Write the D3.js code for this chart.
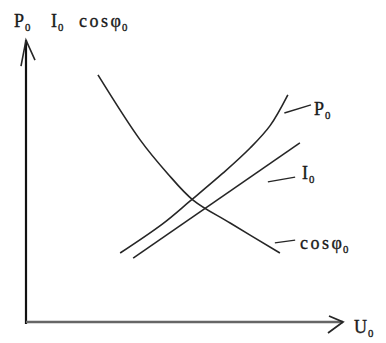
<!DOCTYPE html>
<html>
<head>
<meta charset="utf-8">
<script src="https://cdn.jsdelivr.net/npm/d3@7"></script>
<style>
  html, body { margin: 0; padding: 0; background: #fff; }
  svg { display: block; }
  text { font-family: "Liberation Serif", "DejaVu Serif", serif; fill: #1a1a1a; stroke: #1a1a1a; stroke-width: 0.35; }
</style>
</head>
<body>
<svg id="chart" width="386" height="343"></svg>
<script>
// No-load characteristic curves plotted against the applied voltage U0
// (relative units, 0..100 on both axes).
const powerU   = [29.7, 43.2, 51.7, 62.1, 70.7, 77.0, 82.6];
const powerP   = [25.0, 35.5, 43.5, 53.5, 62.5, 70.5, 81.5];
const currentU = [33.8, 86.4];
const currentI = [23.2, 64.3];
const cosU     = [22.7, 36.0, 44.5, 52.7, 64.4, 80.1];
const cosPhi   = [88.6, 65.4, 53.6, 43.9, 35.7, 25.0];

const svg = d3.select("#chart");
const x = d3.scaleLinear().domain([0, 100]).range([26, 343]);
const y = d3.scaleLinear().domain([0, 100]).range([323, 43]);

const ink = "#262626";

// axes with open arrowheads
svg.append("line").attr("x1", x(0)).attr("y1", y(0) + 1).attr("x2", x(0)).attr("y2", y(101))
  .attr("stroke", "#111").attr("stroke-width", 2.2);
svg.append("line").attr("x1", x(0)).attr("y1", y(0) - 1).attr("x2", x(100)).attr("y2", y(0) - 1)
  .attr("stroke", "#666").attr("stroke-width", 2.6);
svg.append("path")
  .attr("d", `M${x(0) - 5},${y(101) + 26} L${x(0)},${y(101)} L${x(0) + 9},${y(101) + 20}`)
  .attr("fill", "none").attr("stroke", ink).attr("stroke-width", 1.6);
svg.append("path")
  .attr("d", `M${x(100) - 14},${y(0) - 7} L${x(100)},${y(0) - 1} L${x(100) - 15},${y(0) + 10}`)
  .attr("fill", "none").attr("stroke", ink).attr("stroke-width", 1.8);

const line = d3.line().x(d => x(d[0])).y(d => y(d[1])).curve(d3.curveCatmullRom);
const series = [
  d3.zip(powerU, powerP),
  d3.zip(currentU, currentI),
  d3.zip(cosU, cosPhi)
];
svg.selectAll("path.curve").data(series).join("path")
  .attr("class", "curve")
  .attr("d", line)
  .attr("fill", "none")
  .attr("stroke", ink)
  .attr("stroke-width", 1.6);

// leader lines from curves to their labels
const leaders = [
  [[81.5, 75.0], [89.9, 77.9]],
  [[76.3, 50.4], [84.9, 52.1]],
  [[78.5, 28.6], [84.9, 29.6]]
];
svg.selectAll("path.leader").data(leaders).join("path")
  .attr("class", "leader")
  .attr("d", d3.line().x(d => x(d[0])).y(d => y(d[1])))
  .attr("fill", "none").attr("stroke", ink).attr("stroke-width", 1.4);

// text labels: spaced prefix, main symbol, subscript
function label(px, py, prefix, main, sub, size) {
  const t = svg.append("text").attr("x", px).attr("y", py).attr("font-size", size);
  if (prefix) t.append("tspan").attr("letter-spacing", 2.5).text(prefix);
  t.append("tspan").text(main);
  t.append("tspan").attr("font-size", size * 0.6).attr("dx", 1).attr("dy", size * 0.22).text(sub);
  return t;
}
label(14, 27, "", "P", "0", 18);
label(51, 27, "", "I", "0", 18);
label(79, 27, "cos", "φ", "0", 18);
label(314, 115, "", "P", "0", 18);
label(302, 179, "", "I", "0", 18);
label(300, 249, "cos", "φ", "0", 18);
label(354, 333, "", "U", "0", 18);
</script>
</body>
</html>
